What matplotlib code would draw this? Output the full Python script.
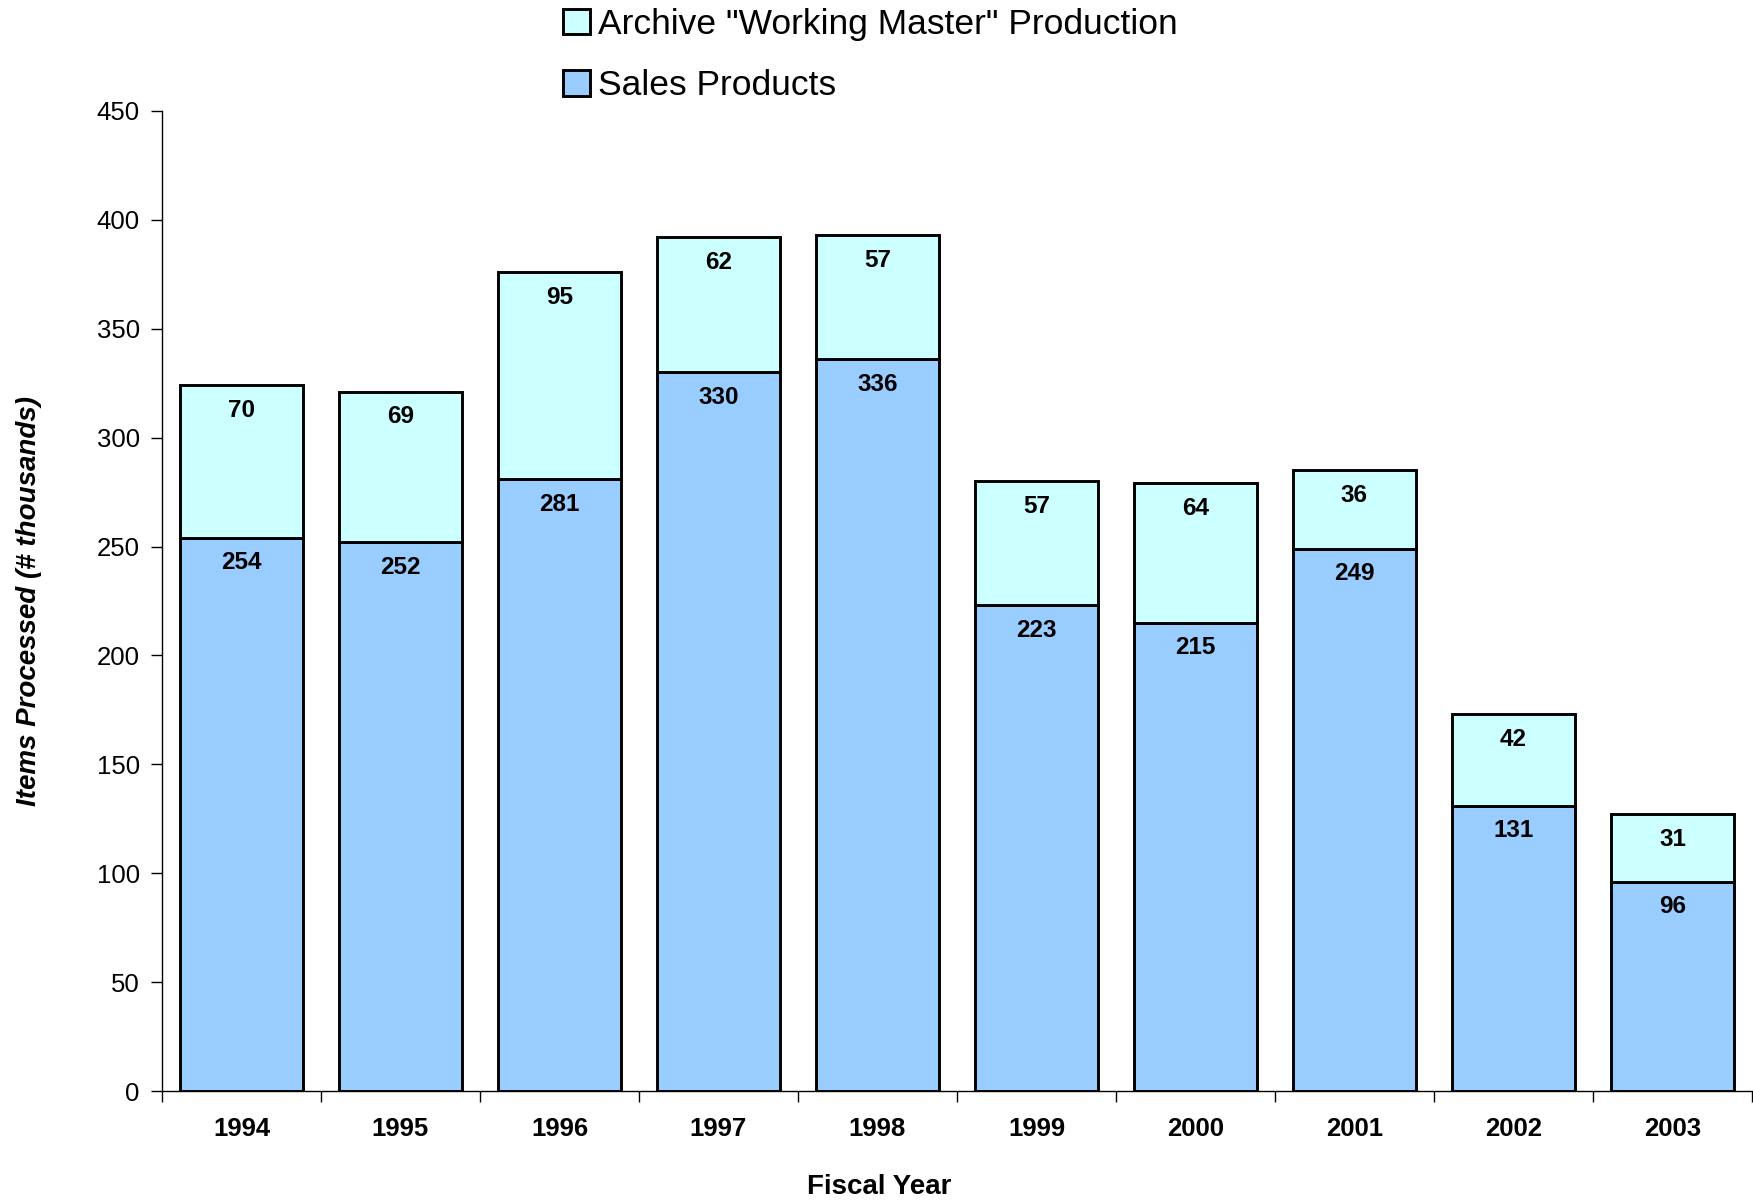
import matplotlib.pyplot as plt
import numpy as np

plt.rcParams['font.family'] = ['Liberation Sans', 'DejaVu Sans']

years = ['1994', '1995', '1996', '1997', '1998', '1999', '2000', '2001', '2002', '2003']
sales = [254, 252, 281, 330, 336, 223, 215, 249, 131, 96]
archive = [70, 69, 95, 62, 57, 57, 64, 36, 42, 31]

fig = plt.figure(figsize=(17.53, 12), dpi=100)
ax = fig.add_axes([0.0924, 0.0908, 0.9070, 0.8167])

x = np.arange(len(years))
w = 0.775
b1 = ax.bar(x, sales, w, color='#99CCFF', edgecolor='black', linewidth=2.1,
            label='Sales Products')
b2 = ax.bar(x, archive, w, bottom=sales, color='#CCFFFF', edgecolor='black',
            linewidth=2.1, label='Archive "Working Master" Production')

# 数值标签放在每段顶部下方
for i in range(len(years)):
    ax.annotate(str(sales[i]), (x[i], sales[i]), xytext=(0, -18), textcoords='offset points',
                ha='center', va='center', fontsize=17.5, fontweight='bold')
    ax.annotate(str(archive[i]), (x[i], sales[i] + archive[i]), xytext=(0, -18),
                textcoords='offset points', ha='center', va='center', fontsize=17.5,
                fontweight='bold')

ax.set_xlim(-0.5, len(years) - 0.5)
ax.set_ylim(0, 450)
ax.set_yticks(range(0, 451, 50))
ax.set_xticks(x)
ax.set_xticklabels(years, fontsize=18.5, fontweight='bold')
ax.set_xticks(np.arange(-0.5, len(years), 1), minor=True)
ax.tick_params(axis='x', which='major', length=0, pad=19)
ax.tick_params(axis='x', which='minor', length=8, width=1, direction='out')
ax.tick_params(axis='y', labelsize=18.5, length=8, width=1, direction='out', pad=8)

for s in ['top', 'right']:
    ax.spines[s].set_visible(False)
ax.spines['left'].set_linewidth(1)
ax.spines['bottom'].set_linewidth(1)

ax.set_xlabel('Fiscal Year', fontsize=20, fontweight='bold')
ax.xaxis.set_label_coords(0.451, -0.085)
ax.set_ylabel('Items Processed (# thousands)', fontsize=20, fontweight='bold',
              fontstyle='italic', labelpad=39)

fig.legend(handles=[b2, b1], labels=['Archive "Working Master" Production', 'Sales Products'],
           loc='upper left', bbox_to_anchor=(0.303, 1.02), frameon=False, fontsize=25.5,
           handlelength=0.75, handleheight=0.75, handletextpad=0.25, labelspacing=0.8)

fig.savefig('out.png', dpi=100)
